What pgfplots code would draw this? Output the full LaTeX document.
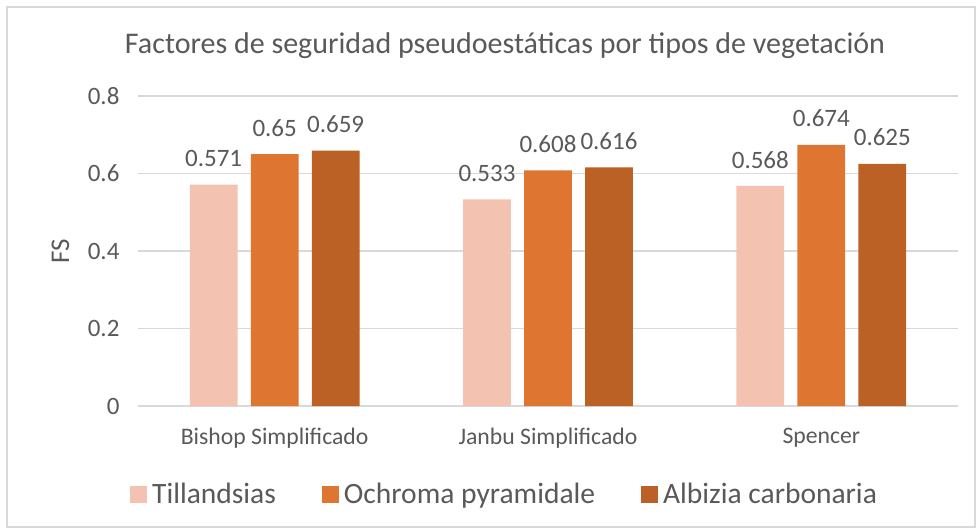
\documentclass[border=0pt]{standalone}
\usepackage{pgfplots}
\pgfplotsset{compat=1.18}
\usepackage{fontspec}
\setmainfont{Carlito}
\definecolor{txt}{HTML}{595959}
\definecolor{gridc}{HTML}{D9D9D9}
\definecolor{cA}{HTML}{F4C2B1}
\definecolor{cB}{HTML}{DE7530}
\definecolor{cC}{HTML}{BC6125}
\begin{document}
\begin{tikzpicture}
\path[use as bounding box] (0pt,-531pt) rectangle (978pt,0pt);
\draw[gridc, line width=1.3pt] (7pt,-7pt) rectangle (975pt,-527pt);
\node[font=\fontsize{30}{34}\selectfont, text=txt] at (505pt,-46pt) {Factores de seguridad pseudoestáticas por tipos de vegetación};
\node[font=\fontsize{27}{30}\selectfont, text=txt, rotate=90] at (60.5pt,-251pt) {FS};
\begin{axis}[
  at={(138pt,-406pt)}, anchor=south west,
  scale only axis, width=820pt, height=310pt,
  xmin=-0.5, xmax=2.5, ymin=0, ymax=0.8,
  ybar=13.3pt, bar width=47.7pt,
  xtick=data, xticklabels={Bishop Simplificado, Janbu Simplificado, Spencer},
  ytick={0,0.2,0.4,0.6,0.8},
  major tick length=0pt,
  axis line style={draw=none},
  ymajorgrids, grid style={gridc, line width=1.3pt},
  /pgf/number format/assume math mode=true,
  /pgf/number format/fixed, /pgf/number format/precision=3,
  yticklabel style={font=\fontsize{25}{28}\selectfont, text=txt, xshift=-15pt},
  xticklabel style={font=\fontsize{23.7}{26}\selectfont, text=txt, yshift=-19pt},
  nodes near coords,
  every node near coord/.append style={font=\fontsize{25}{28}\selectfont, text=txt, inner sep=0pt, yshift=17.5pt},
  legend style={at={(0.447,-0.285)}, anchor=center, draw=none, legend columns=3,
    font=\fontsize{29.5}{33}\selectfont, text=txt,
    /tikz/every even column/.append style={column sep=44pt},
    /tikz/every odd column/.append style={column sep=3pt}},
  legend image code/.code={\fill[#1] (0pt,-8.5pt) rectangle (17pt,8.5pt);},
  clip=false,
]
\addplot[fill=cA, draw=none] coordinates {(0,0.571) (1,0.533) (2,0.568)};
\addplot[fill=cB, draw=none] coordinates {(0,0.65) (1,0.608) (2,0.674)};
\addplot[fill=cC, draw=none] coordinates {(0,0.659) (1,0.616) (2,0.625)};
\legend{Tillandsias, Ochroma pyramidale, Albizia carbonaria}
\end{axis}
\end{tikzpicture}
\end{document}
